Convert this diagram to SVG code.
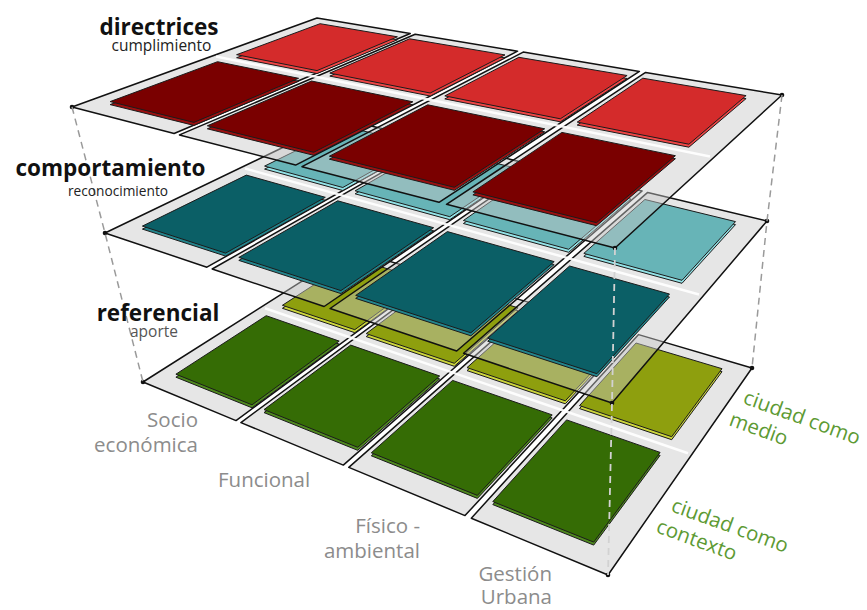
<svg xmlns="http://www.w3.org/2000/svg" width="867" height="610" viewBox="0 0 867 610">
<style>
.slab{fill:#c8c8c8;fill-opacity:.45;stroke:#111;stroke-width:1.5;stroke-linejoin:round}
.row{fill:none;stroke:#fff;stroke-width:2.5;stroke-opacity:.9}
.tile polygon{stroke:#1b1b1b;stroke-width:1;stroke-linejoin:round}
.rl .f{fill:#d42b2b}.rl .s{fill:#f04545}
.rd .f{fill:#7a0000}.rd .s{fill:#9c1010}
.tl .f{fill:#67b4b7}.tl .s{fill:#93e2e6}
.td .f{fill:#0b5f66}.td .s{fill:#23858d}
.ol .f{fill:#8e9f0e}.ol .s{fill:#cdd63c}
.gd .f{fill:#356c05}.gd .s{fill:#4f8a1e}
.dot{fill:#111}
.dash{fill:none;stroke:#9a9a9a;stroke-width:1.5;stroke-dasharray:7 5}
.dashw{fill:none;stroke:#d2d2d2;stroke-width:1.8;stroke-dasharray:7 5}
.ttl{font-family:"Open Sans","Noto Sans",sans-serif;font-weight:bold;font-size:22.5px;fill:#111}
.sub{font-family:"Open Sans","Noto Sans",sans-serif;fill:#222}
.gl{font-family:"Open Sans","Noto Sans",sans-serif;font-size:20.5px;fill:#8c8c8c}
.gr{font-family:"Open Sans","Noto Sans",sans-serif;font-size:20.5px;fill:#5d9a33}
</style>

<!-- bottom layer: referencial -->
<g id="layer-referencial">
  <g id="ref-slabs">
    <polygon class="slab" points="143,382 236,420.6 434.8,274.6 351,250"/>
    <polygon class="slab" points="240.9,422.6 343.3,465.1 529.1,302.4 439.1,275.9"/>
    <polygon class="slab" points="348.8,467.4 465,515.6 633.3,333 533.9,303.8"/>
    <polygon class="slab" points="471.3,518.2 608,575 752,368 638.6,334.6"/>
    <line class="row" x1="265" y1="308.3" x2="688" y2="453.3"/>
  </g>
  <g id="ref-b0" class="tile ol"><polygon class="s" transform="translate(0,3)" points="282.4,305.3 354.8,329.7 423.5,279.5 354.1,258.8"/><polygon class="f" points="282.4,305.3 354.8,329.7 423.5,279.5 354.1,258.8"/></g>
  <g id="ref-b1" class="tile ol"><polygon class="s" transform="translate(0,3)" points="366.2,333.6 454.3,363.3 518.1,307.8 434.4,282.8"/><polygon class="f" points="366.2,333.6 454.3,363.3 518.1,307.8 434.4,282.8"/></g>
  <g id="ref-b2" class="tile ol"><polygon class="s" transform="translate(0,3)" points="467,367.6 565.3,400.8 622.7,339 530.1,311.4"/><polygon class="f" points="467,367.6 565.3,400.8 622.7,339 530.1,311.4"/></g>
  <g id="ref-b3" class="tile ol"><polygon class="s" transform="translate(0,3)" points="579.5,405.6 671.7,436.7 722,368.7 636,343"/><polygon class="f" points="579.5,405.6 671.7,436.7 722,368.7 636,343"/></g>
  <g id="ref-f0" class="tile gd"><polygon class="s" transform="translate(0,3)" points="175.9,374.2 252,404.8 339.2,341.1 266.2,315.7"/><polygon class="f" points="175.9,374.2 252,404.8 339.2,341.1 266.2,315.7"/></g>
  <g id="ref-f1" class="tile gd"><polygon class="s" transform="translate(0,3)" points="264,409.6 357.7,447.3 439.7,376 350.7,345.1"/><polygon class="f" points="264,409.6 357.7,447.3 439.7,376 350.7,345.1"/></g>
  <g id="ref-f2" class="tile gd"><polygon class="s" transform="translate(0,3)" points="371.3,452.8 477.4,495.4 552.2,414.9 452.6,380.4"/><polygon class="f" points="371.3,452.8 477.4,495.4 552.2,414.9 452.6,380.4"/></g>
  <g id="ref-f3" class="tile gd"><polygon class="s" transform="translate(0,3)" points="492.8,501.6 593.7,542.1 660.1,452.4 566.6,419.9"/><polygon class="f" points="492.8,501.6 593.7,542.1 660.1,452.4 566.6,419.9"/></g>
  <circle class="dot" cx="143" cy="382" r="2.3"/><circle class="dot" cx="752" cy="368" r="2.3"/><circle class="dot" cx="608" cy="575" r="2.3"/>
</g>

<!-- middle layer: comportamiento -->
<g id="layer-comportamiento">
  <g id="com-slabs">
    <polygon class="slab" points="105,233 206.9,267.2 431.6,140.5 342,119"/>
    <polygon class="slab" points="212.2,269 324.1,306.5 531.9,164.6 436.2,141.6"/>
    <polygon class="slab" points="330.1,308.5 456.7,351 642.1,191 536.9,165.8"/>
    <polygon class="slab" points="463.6,353.3 612,403 767,221 647.7,192.4"/>
    <line class="row" x1="245" y1="168.5" x2="699" y2="294.5"/>
  </g>
  <g id="com-b0" class="tile tl"><polygon class="s" transform="translate(0,3)" points="264.6,166.1 342.8,187.5 419.3,144.6 345.1,126.5"/><polygon class="f" points="264.6,166.1 342.8,187.5 419.3,144.6 345.1,126.5"/></g>
  <g id="com-b1" class="tile tl"><polygon class="s" transform="translate(0,3)" points="355.1,190.8 449.8,216.7 520,169.1 430.9,147.4"/><polygon class="f" points="355.1,190.8 449.8,216.7 520,169.1 430.9,147.4"/></g>
  <g id="com-b2" class="tile tl"><polygon class="s" transform="translate(0,3)" points="463.4,220.5 568.7,249.3 630.9,196.1 532.8,172.2"/><polygon class="f" points="463.4,220.5 568.7,249.3 630.9,196.1 532.8,172.2"/></g>
  <g id="com-b3" class="tile tl"><polygon class="s" transform="translate(0,3)" points="583.8,253.4 682,280.3 735.5,221.6 644.9,199.5"/><polygon class="f" points="583.8,253.4 682,280.3 735.5,221.6 644.9,199.5"/></g>
  <g id="com-f0" class="tile td"><polygon class="s" transform="translate(0,3)" points="142.4,226.1 225.6,253.1 325.3,197.3 246.3,175.1"/><polygon class="f" points="142.4,226.1 225.6,253.1 325.3,197.3 246.3,175.1"/></g>
  <g id="com-f1" class="tile td"><polygon class="s" transform="translate(0,3)" points="238.8,257.4 340.9,290.6 433.6,227.7 337.7,200.8"/><polygon class="f" points="238.8,257.4 340.9,290.6 433.6,227.7 337.7,200.8"/></g>
  <g id="com-f2" class="tile td"><polygon class="s" transform="translate(0,3)" points="355.7,295.4 470.9,332.8 554.2,261.6 447.4,231.6"/><polygon class="f" points="355.7,295.4 470.9,332.8 554.2,261.6 447.4,231.6"/></g>
  <g id="com-f3" class="tile td"><polygon class="s" transform="translate(0,3)" points="487.7,338.2 596.9,373.7 669.5,294 569.6,266"/><polygon class="f" points="487.7,338.2 596.9,373.7 669.5,294 569.6,266"/></g>
  <circle class="dot" cx="105" cy="233" r="2.3"/><circle class="dot" cx="767" cy="221" r="2.3"/><circle class="dot" cx="612" cy="403" r="2.3"/>
</g>

<!-- top layer: directrices -->
<g id="layer-directrices">
  <g id="dir-slabs">
    <polygon class="slab" points="72,107 174.1,133.5 410.3,33.5 317,18"/>
    <polygon class="slab" points="179.5,134.9 295.6,165.1 517.6,51.2 415.2,34.3"/>
    <polygon class="slab" points="302,166.7 439,202.3 639.4,71.4 523.2,52.1"/>
    <polygon class="slab" points="446.5,204.3 615,248 782,95 645.6,72.4"/>
    <line class="row" x1="216" y1="56.6" x2="710" y2="156.4"/>
  </g>
  <g id="dir-b0" class="tile rl"><polygon class="s" transform="translate(0,3)" points="236.6,54.7 317,70.6 397.4,36.8 320.1,23.7"/><polygon class="f" points="236.6,54.7 317,70.6 397.4,36.8 320.1,23.7"/></g>
  <g id="dir-b1" class="tile rl"><polygon class="s" transform="translate(0,3)" points="329.8,73.1 430.2,93 505,54.9 409.6,38.8"/><polygon class="f" points="329.8,73.1 430.2,93 505,54.9 409.6,38.8"/></g>
  <g id="dir-b2" class="tile rl"><polygon class="s" transform="translate(0,3)" points="444.8,95.9 560.3,118.8 627.1,75.5 518.8,57.3"/><polygon class="f" points="444.8,95.9 560.3,118.8 627.1,75.5 518.8,57.3"/></g>
  <g id="dir-b3" class="tile rl"><polygon class="s" transform="translate(0,3)" points="577.2,122.1 688.9,144.2 746.1,95.6 642.8,78.2"/><polygon class="f" points="577.2,122.1 688.9,144.2 746.1,95.6 642.8,78.2"/></g>
  <g id="dir-f0" class="tile rd"><polygon class="s" transform="translate(0,3)" points="110.1,101.6 193.9,122.4 298.6,78.3 217.5,61.7"/><polygon class="f" points="110.1,101.6 193.9,122.4 298.6,78.3 217.5,61.7"/></g>
  <g id="dir-f1" class="tile rd"><polygon class="s" transform="translate(0,3)" points="207.3,125.8 313.7,152.3 412.9,101.8 311.5,81"/><polygon class="f" points="207.3,125.8 313.7,152.3 412.9,101.8 311.5,81"/></g>
  <g id="dir-f2" class="tile rd"><polygon class="s" transform="translate(0,3)" points="329.4,156.2 454.4,187.3 544.7,128.8 427.7,104.8"/><polygon class="f" points="329.4,156.2 454.4,187.3 544.7,128.8 427.7,104.8"/></g>
  <g id="dir-f3" class="tile rd"><polygon class="s" transform="translate(0,3)" points="472.9,191.9 596.5,222.7 675.4,155.7 561.9,132.4"/><polygon class="f" points="472.9,191.9 596.5,222.7 675.4,155.7 561.9,132.4"/></g>
  <circle class="dot" cx="72" cy="107" r="2.3"/><circle class="dot" cx="782" cy="95" r="2.3"/><circle class="dot" cx="615" cy="248" r="2.3"/>
</g>

<g id="connectors">
  <polyline class="dash" points="72,107 105,233 143,382"/>
  <polyline class="dash" points="782,95 767,221 752,368"/>
  <polyline class="dashw" points="615,248 612,403 608,575"/>
</g>

<g id="labels">
  <text class="ttl" x="159" y="35" text-anchor="middle">directrices</text>
  <text class="sub" x="161.5" y="51" text-anchor="middle" font-size="15.5">cumplimiento</text>
  <text class="ttl" x="110.5" y="176" text-anchor="middle">comportamiento</text>
  <text class="sub" x="118" y="196" text-anchor="middle" font-size="13.7">reconocimiento</text>
  <text class="ttl" x="158" y="321" text-anchor="middle">referencial</text>
  <text class="sub" x="154" y="337" text-anchor="middle" font-size="15.5" style="fill:#555">aporte</text>
  <text class="gl" x="198" y="427" text-anchor="end">Socio</text>
  <text class="gl" x="198" y="452" text-anchor="end">económica</text>
  <text class="gl" x="218" y="487">Funcional</text>
  <text class="gl" x="420" y="533" text-anchor="end">Físico -</text>
  <text class="gl" x="420" y="558" text-anchor="end">ambiental</text>
  <text class="gl" x="552" y="581" text-anchor="end">Gestión</text>
  <text class="gl" x="552" y="604" text-anchor="end">Urbana</text>
  <text class="gr" transform="translate(742,403) rotate(20)">ciudad como</text>
  <text class="gr" transform="translate(728,425) rotate(20)">medio</text>
  <text class="gr" transform="translate(670,511) rotate(20)">ciudad como</text>
  <text class="gr" transform="translate(655,532) rotate(20)">contexto</text>
</g>
</svg>
